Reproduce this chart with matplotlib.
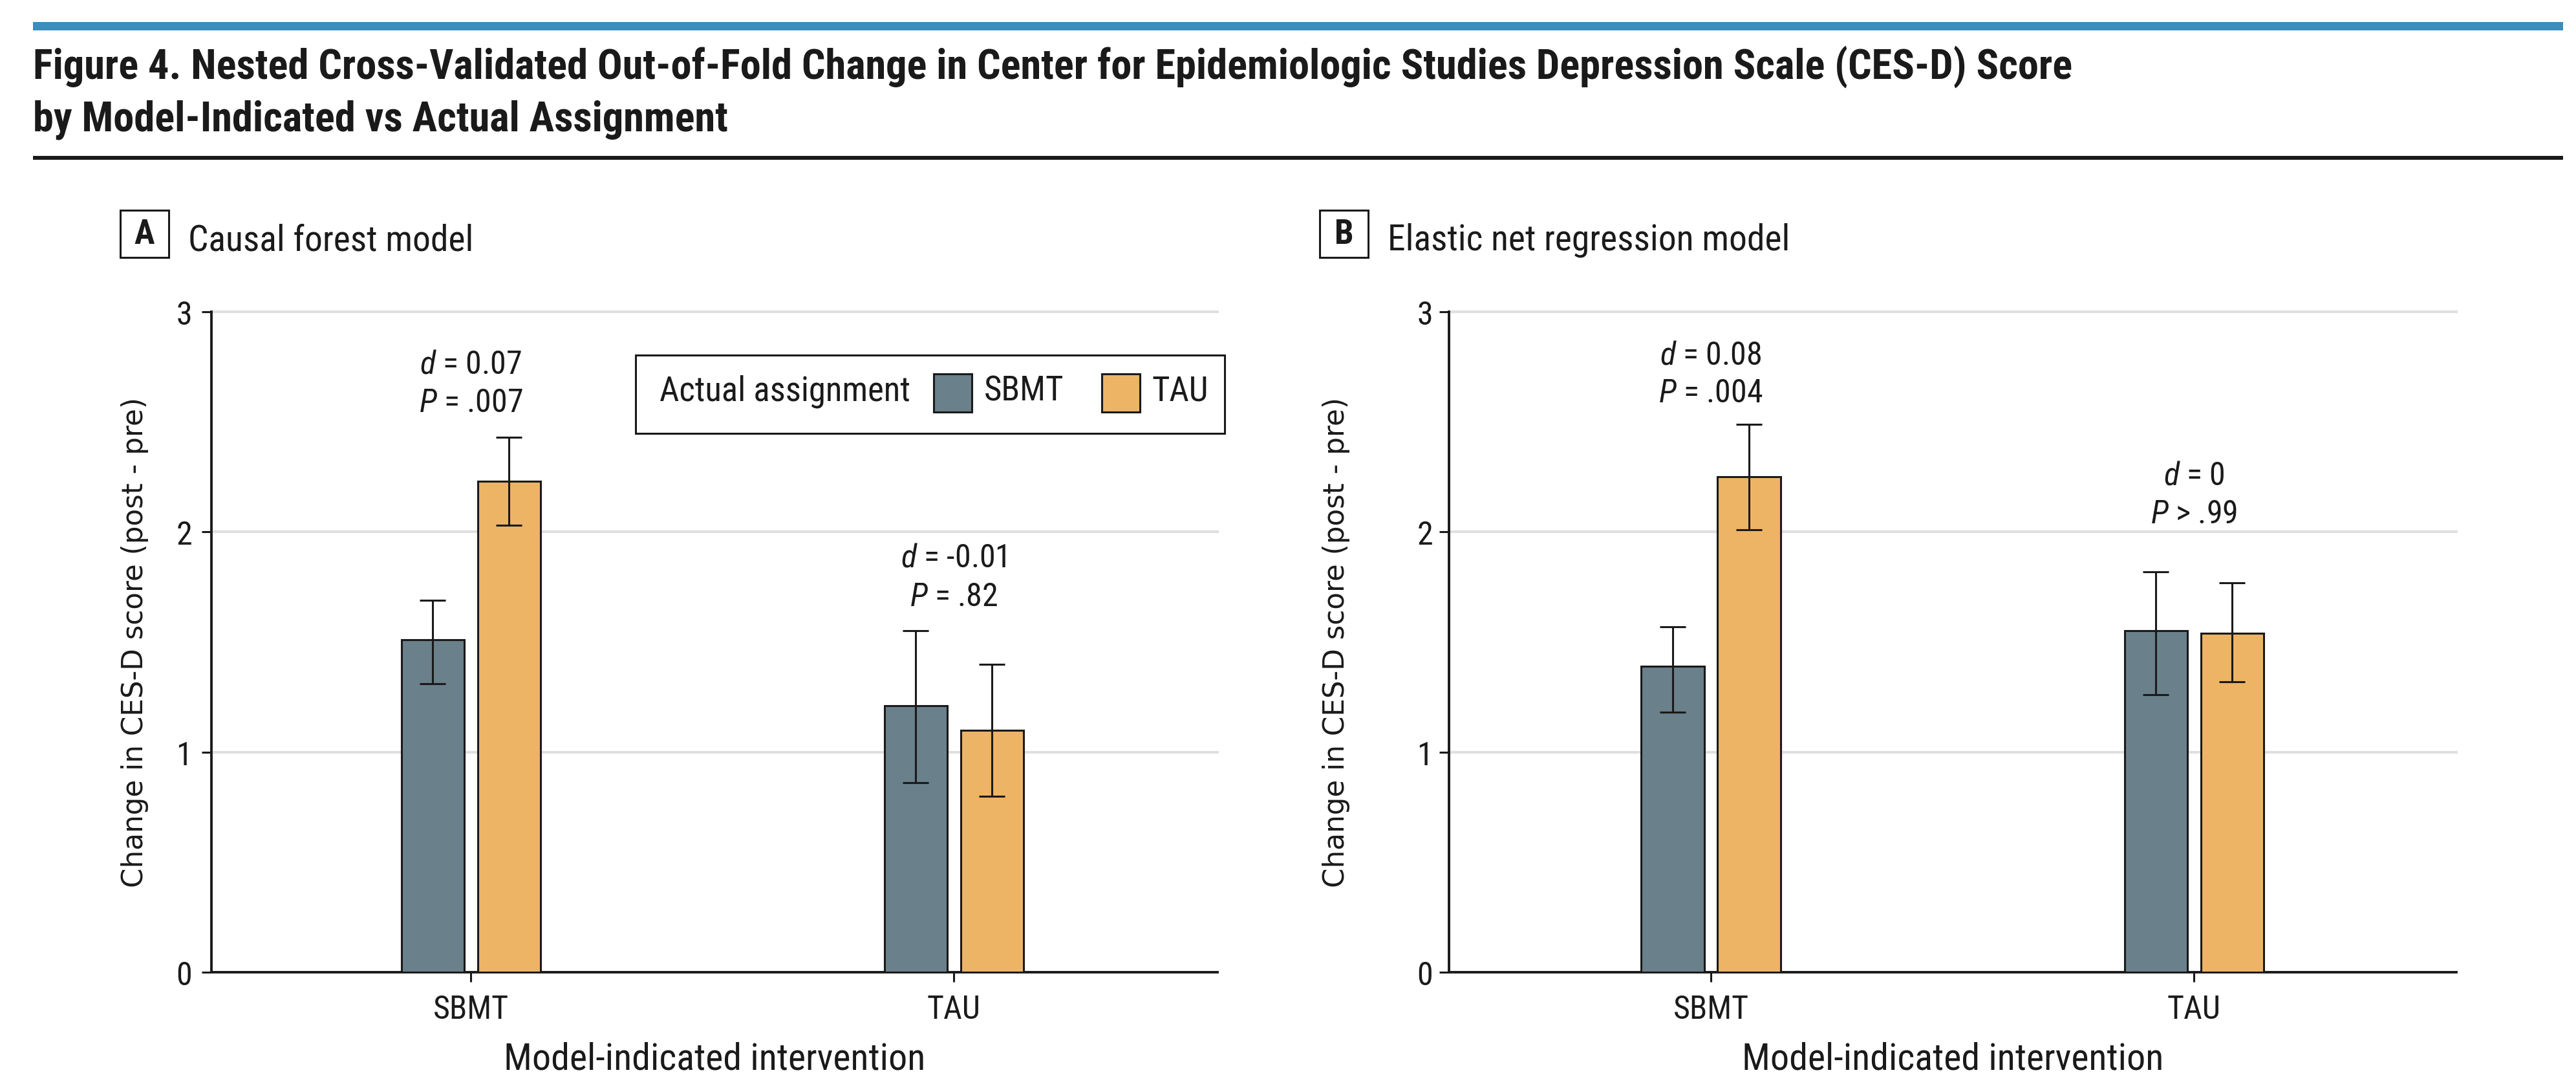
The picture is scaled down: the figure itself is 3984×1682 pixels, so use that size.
import matplotlib
matplotlib.use("Agg")
import matplotlib.pyplot as plt
from matplotlib import font_manager as fm
from matplotlib.patches import Rectangle
import numpy as np

# ---------------- data ----------------
categories = ["SBMT", "TAU"]              # model-indicated intervention
actual_groups = ["SBMT", "TAU"]           # actual assignment

cf_sbmt = [1.51, 1.21]
cf_sbmt_lo = [1.31, 0.86]
cf_sbmt_hi = [1.69, 1.55]
cf_tau = [2.23, 1.10]
cf_tau_lo = [2.03, 0.80]
cf_tau_hi = [2.43, 1.40]

en_sbmt = [1.39, 1.55]
en_sbmt_lo = [1.18, 1.26]
en_sbmt_hi = [1.57, 1.82]
en_tau = [2.25, 1.54]
en_tau_lo = [2.01, 1.32]
en_tau_hi = [2.49, 1.77]

cf_d = ["0.07", "-0.01"]
cf_p = ["= .007", "= .82"]
en_d = ["0.08", "0"]
en_p = ["= .004", "> .99"]

yticks = [0, 1, 2, 3]

# ---------------- fonts ----------------
names = {f.name for f in fm.fontManager.ttflist}
COND = None
COND_STRETCH = "normal"
for p in ["Liberation Sans Narrow", "Roboto Condensed", "Open Sans Condensed",
          "Noto Sans Condensed", "Arial Narrow"]:
    if p in names:
        COND = p
        break
if COND is None:
    for f in fm.fontManager.ttflist:
        if isinstance(f.stretch, str) and "condensed" in f.stretch and f.name in ("DejaVu Sans", "Noto Sans", "Open Sans"):
            COND = f.name
            COND_STRETCH = f.stretch
            break
if COND is None:
    COND = "Liberation Sans"

plt.rcParams["font.family"] = [COND, "DejaVu Sans"]
plt.rcParams["font.stretch"] = COND_STRETCH
plt.rcParams["mathtext.fontset"] = "custom"
stretch_tag = "" if COND_STRETCH == "normal" else ":" + COND_STRETCH
plt.rcParams["mathtext.it"] = COND + ":italic" + stretch_tag
plt.rcParams["mathtext.rm"] = COND + stretch_tag

W, H, DPI = 3984, 1683, 200
fig = plt.figure(figsize=(W / DPI, H / DPI), dpi=DPI)

def fx(px):
    return px / W

def fy(py):
    return 1 - py / H

GRAY = "#6a808b"
ORANGE = "#edb466"
INK = "#1a1a1a"
GRID = "#e0e0e0"

# header decorations
fig.patches.append(Rectangle((fx(51), fy(48)), fx(3964) - fx(51), fy(35) - fy(48),
                             transform=fig.transFigure, color="#3b8dbb", lw=0))
fig.patches.append(Rectangle((fx(51), fy(248)), fx(3964) - fx(51), fy(242) - fy(248),
                             transform=fig.transFigure, color=INK, lw=0))
fig.text(fx(51), fy(122),
         "Figure 4. Nested Cross-Validated Out-of-Fold Change in Center for Epidemiologic Studies Depression Scale (CES-D) Score",
         fontsize=23.2, fontweight="semibold", color=INK, ha="left", va="baseline")
fig.text(fx(51), fy(203), "by Model-Indicated vs Actual Assignment",
         fontsize=23.2, fontweight="semibold", color=INK, ha="left", va="baseline")

# panels
panels = [
    dict(left=327, right=1883, xlim=(-0.537, 1.546), box=(186, 261), tx=291,
         ylx=209, pad=5.4, letter="A", title="Causal forest model",
         sb=cf_sbmt, sb_lo=cf_sbmt_lo, sb_hi=cf_sbmt_hi,
         ta=cf_tau, ta_lo=cf_tau_lo, ta_hi=cf_tau_hi,
         d=cf_d, p=cf_p, ann_y=[(2.723, 2.547), (1.843, 1.667)], legend=True),
    dict(left=2241, right=3799, xlim=(-0.542, 1.543), box=(2041, 2116), tx=2146,
         ylx=2066, pad=3.6, letter="B", title="Elastic net regression model",
         sb=en_sbmt, sb_lo=en_sbmt_lo, sb_hi=en_sbmt_hi,
         ta=en_tau, ta_lo=en_tau_lo, ta_hi=en_tau_hi,
         d=en_d, p=en_p, ann_y=[(2.762, 2.591), (2.218, 2.042)], legend=False),
]

TOP, BOT = 483, 1504
width = 0.13
off = 0.079

for P in panels:
    ax = fig.add_axes([fx(P["left"]), fy(BOT), fx(P["right"]) - fx(P["left"]), fy(TOP) - fy(BOT)])
    x = np.arange(len(categories))
    for yv in yticks[1:]:
        ax.axhline(yv, color=GRID, lw=1.5, zorder=0, clip_on=False)
    sb = np.array(P["sb"]); ta = np.array(P["ta"])
    sb_err = [sb - np.array(P["sb_lo"]), np.array(P["sb_hi"]) - sb]
    ta_err = [ta - np.array(P["ta_lo"]), np.array(P["ta_hi"]) - ta]
    ekw = dict(ecolor=INK, elinewidth=1.1, capsize=7.2, capthick=1.1, zorder=4)
    ax.bar(x - off, sb, width, color=GRAY, edgecolor=INK, linewidth=1.1,
           yerr=sb_err, error_kw=ekw, zorder=3, label=actual_groups[0])
    ax.bar(x + off, ta, width, color=ORANGE, edgecolor=INK, linewidth=1.1,
           yerr=ta_err, error_kw=ekw, zorder=3, label=actual_groups[1])
    for i in range(len(categories)):
        yd, yp = P["ann_y"][i]
        ax.text(x[i], yd, r"$d$ = " + P["d"][i], ha="center", va="baseline",
                fontsize=18, color=INK)
        ax.text(x[i], yp, r"$P$ " + P["p"][i], ha="center", va="baseline",
                fontsize=18, color=INK)
    ax.set_xlim(*P["xlim"])
    ax.set_ylim(0, 3)
    ax.set_yticks(yticks)
    ax.set_yticklabels([str(t) for t in yticks])
    ax.set_xticks(x)
    ax.set_xticklabels(categories)
    for s in ["top", "right"]:
        ax.spines[s].set_visible(False)
    for s in ["left", "bottom"]:
        ax.spines[s].set_color(INK)
        ax.spines[s].set_linewidth(1.4)
    ax.tick_params(axis="y", length=5.4, width=1.1, color=INK, pad=P["pad"],
                   labelsize=18, labelcolor=INK)
    ax.tick_params(axis="x", length=5.4, width=1.1, color=INK, pad=6.5,
                   labelsize=18, labelcolor=INK)
    ax.set_xlabel("Model-indicated intervention", fontsize=20.9, color=INK, va="baseline")
    ax.xaxis.set_label_coords(0.5, (BOT - 1654) / (BOT - TOP))
    ax.set_ylabel("Change in CES-D score (post - pre)", family="DejaVu Sans",
                  fontstretch="normal", fontsize=15.7, color=INK, va="center")
    ax.yaxis.set_label_coords((P["ylx"] - P["left"]) / (P["right"] - P["left"]), 0.5)

    # panel label
    b0, b1 = P["box"]
    fig.patches.append(Rectangle((fx(b0), fy(399)), fx(b1) - fx(b0), fy(326) - fy(399),
                                 transform=fig.transFigure, fill=False, edgecolor=INK, lw=1.1))
    fig.text(fx((b0 + b1) / 2), fy(362.5), P["letter"], fontsize=19, fontweight="bold",
             color=INK, ha="center", va="center")
    fig.text(fx(P["tx"]), fy(387), P["title"], fontsize=20, color=INK,
             ha="left", va="baseline")

    if P["legend"]:
        L, R = P["left"], P["right"]
        def axx(px):
            return (px - L) / (R - L)
        def axy(py):
            return (BOT - py) / (BOT - TOP)
        ax.add_patch(Rectangle((axx(983), axy(671)), axx(1894) - axx(983), axy(550) - axy(671),
                               transform=ax.transAxes, fill=True, facecolor="white",
                               edgecolor=INK, lw=1.1, clip_on=False, zorder=5))
        ax.text(axx(1020), axy(605), "Actual assignment", transform=ax.transAxes,
                fontsize=19, color=INK, ha="left", va="center", zorder=6)
        for (p0, p1, t0, col, lab) in [(1444, 1503, 1522, GRAY, actual_groups[0]),
                                       (1704, 1763, 1781, ORANGE, actual_groups[1])]:
            ax.add_patch(Rectangle((axx(p0), axy(638)), axx(p1) - axx(p0), axy(579) - axy(638),
                                   transform=ax.transAxes, facecolor=col, edgecolor=INK,
                                   lw=1.1, clip_on=False, zorder=6))
            ax.text(axx(t0), axy(605), lab, transform=ax.transAxes, fontsize=19,
                    color=INK, ha="left", va="center", zorder=6)

fig.savefig("out.png", dpi=DPI, facecolor="white")
